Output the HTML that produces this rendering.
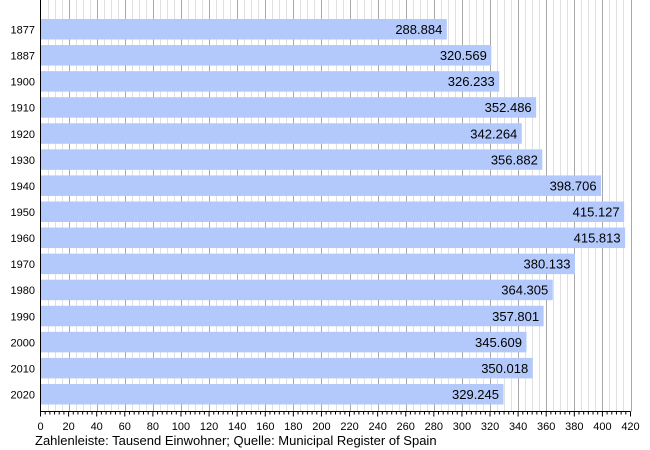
<!DOCTYPE html>
<html><head><style>body{margin:0;background:#fff}svg{display:block}</style></head><body>
<svg width="650" height="450" xmlns="http://www.w3.org/2000/svg" font-family="Liberation Sans, sans-serif">
<g id="grid"></g>
<g id="bars"></g>
<g id="axis"></g>
<text x="35" y="445" font-size="13" fill="#000">Zahlenleiste: Tausend Einwohner; Quelle: Municipal Register of Spain</text>
<script>
var ns="http://www.w3.org/2000/svg";
function el(p,t,a,txt){var e=document.createElementNS(ns,t);for(var k in a)e.setAttribute(k,a[k]);if(txt)e.textContent=txt;document.getElementById(p).appendChild(e);}
var x0=40.5,s=590/420,top=18,bot=411.5;
for(var g=5;g<=420;g+=5){var x=Math.round(x0+g*s)+0.5;var maj=g%20==0;
 el("grid","line",{x1:x,x2:x,y1:top,y2:bot,stroke:maj?"#a8a8a8":"#e0e0e0","stroke-width":1});}
for(var i=0;i<=126;i++){var v=i*20/6,x=x0+v*s;var maj=i%6==0;
 el("axis","line",{x1:x,x2:x,y1:bot,y2:bot+(maj?5:3),stroke:"#000","stroke-width":1});
 if(maj)el("axis","text",{x:x,y:430,"font-size":11,"text-anchor":"middle"},String(v.toFixed(0)));}
el("axis","line",{x1:x0,x2:x0,y1:top,y2:bot,stroke:"#000","stroke-width":1});
el("axis","line",{x1:x0,x2:630.5,y1:bot,y2:bot,stroke:"#000","stroke-width":1});
var d=[["1877",288.884],["1887",320.569],["1900",326.233],["1910",352.486],["1920",342.264],["1930",356.882],["1940",398.706],["1950",415.127],["1960",415.813],["1970",380.133],["1980",364.305],["1990",357.801],["2000",345.609],["2010",350.018],["2020",329.245]];
d.forEach(function(r,i){var y=19+i*26.07,w=r[1]*s;
 el("bars","rect",{x:x0+0.5,y:y,width:w,height:20.5,fill:"#b3c9fb"});
 el("bars","text",{x:x0+w-4,y:y+15,"font-size":13,"text-anchor":"end"},r[1].toFixed(3));
 el("axis","text",{x:35,y:y+14.5,"font-size":11,"text-anchor":"end"},r[0]);});
</script>
</svg>
</body></html>
